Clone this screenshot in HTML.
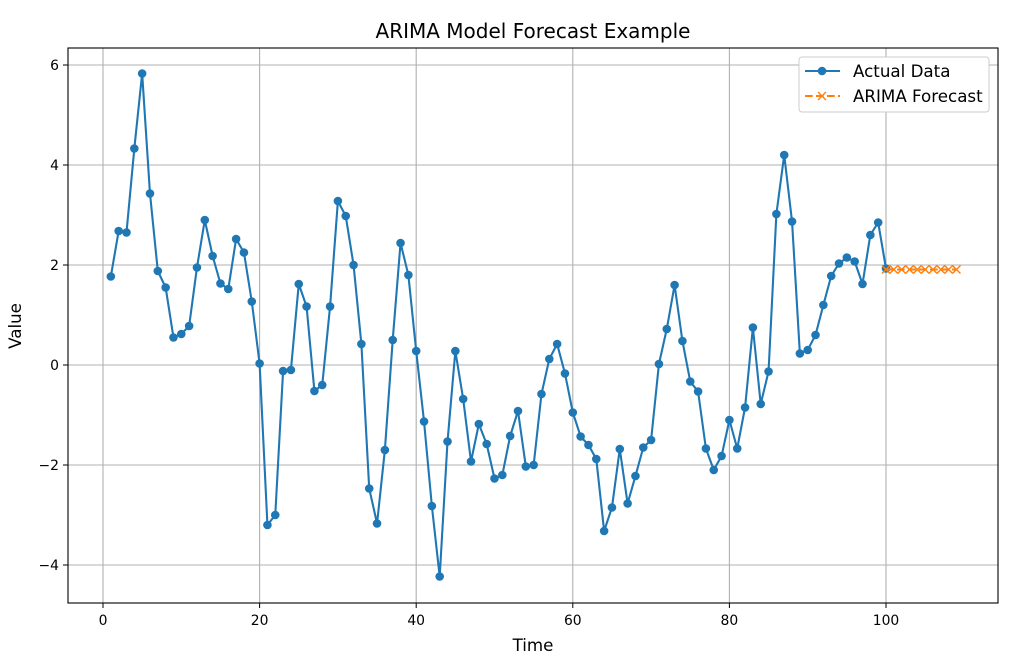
<!DOCTYPE html>
<html><head><meta charset="utf-8"><style>
body{margin:0;background:#fff;}
text{font-family:"DejaVu Sans","Liberation Sans",sans-serif;fill:#000;}
</style></head><body>
<svg id="s" width="1024" height="663" xmlns="http://www.w3.org/2000/svg">
<rect width="1024" height="663" fill="#fff"/>
<g id="grid" stroke="#b0b0b0" stroke-width="1.1"></g>
<g id="ticks"></g>
<polyline id="act" fill="none" stroke="#1f77b4" stroke-width="2.1"/>
<g id="dots" fill="#1f77b4"></g>
<polyline id="fc" fill="none" stroke="#ff7f0e" stroke-width="2.1" stroke-dasharray="7.7,3.3"/>
<g id="xs" stroke="#ff7f0e" stroke-width="1.4"></g>
<rect x="68" y="48" width="930" height="555" fill="none" stroke="#000" stroke-width="1.1"/>
<text x="533" y="38" font-size="20" text-anchor="middle">ARIMA Model Forecast Example</text>
<text x="533" y="651" font-size="16.7" text-anchor="middle">Time</text>
<text x="21" y="326" font-size="16.7" text-anchor="middle" transform="rotate(-90 21 326)">Value</text>
<rect x="799" y="57" width="190" height="55" rx="3" fill="#fff" stroke="#ccc" stroke-width="1"/>
<line x1="805" y1="71" x2="840" y2="71" stroke="#1f77b4" stroke-width="2.1"/>
<circle cx="822" cy="71" r="4.3" fill="#1f77b4"/>
<text x="853" y="77" font-size="16.7">Actual Data</text>
<line x1="805" y1="96" x2="840" y2="96" stroke="#ff7f0e" stroke-width="2.1" stroke-dasharray="7.7,3.3"/>
<path d="M818 92l8 8M826 92l-8 8" stroke="#ff7f0e" stroke-width="1.4"/>
<text x="853" y="102" font-size="16.7">ARIMA Forecast</text>
</svg>
<script>
var d=[1.77,2.68,2.65,4.33,5.83,3.43,1.88,1.55,0.55,0.62,0.78,1.95,2.9,2.18,1.63,1.52,2.52,2.25,1.27,0.03,-3.2,-3.0,-0.12,-0.1,1.62,1.17,-0.52,-0.4,1.17,3.28,2.98,2.0,0.42,-2.47,-3.17,-1.7,0.5,2.44,1.8,0.28,-1.13,-2.82,-4.23,-1.53,0.28,-0.68,-1.93,-1.18,-1.58,-2.27,-2.2,-1.42,-0.92,-2.03,-2.0,-0.58,0.12,0.42,-0.17,-0.95,-1.43,-1.6,-1.88,-3.32,-2.85,-1.68,-2.77,-2.22,-1.65,-1.5,0.02,0.72,1.6,0.48,-0.33,-0.53,-1.67,-2.1,-1.82,-1.1,-1.67,-0.85,0.75,-0.78,-0.13,3.02,4.2,2.87,0.23,0.3,0.6,1.2,1.78,2.03,2.15,2.07,1.62,2.6,2.85,1.93];
function X(t){return 103+t*7.83}function Y(v){return 365-v*50}
var NS="http://www.w3.org/2000/svg";
function el(p,n,a,txt){var e=document.createElementNS(NS,n);for(var k in a)e.setAttribute(k,a[k]);if(txt!=null)e.textContent=txt;document.getElementById(p).appendChild(e);}
for(var t=0;t<=100;t+=20){var x=X(t);el("grid","line",{x1:x,y1:48,x2:x,y2:603});el("ticks","line",{x1:x,y1:603,x2:x,y2:608,stroke:"#000","stroke-width":1});el("ticks","text",{x:x,y:625,"font-size":13.9,"text-anchor":"middle"},t);}
for(var v=-4;v<=6;v+=2){var y=Y(v);el("grid","line",{x1:68,y1:y,x2:998,y2:y});el("ticks","line",{x1:63,y1:y,x2:68,y2:y,stroke:"#000","stroke-width":1});el("ticks","text",{x:59,y:y+5,"font-size":13.9,"text-anchor":"end"},v<0?"\u2212"+(-v):v);}
var p=[];d.forEach(function(v,i){var x=X(i+1),y=Y(v);p.push(x+","+y);el("dots","circle",{cx:x,cy:y,r:4.3});});
document.getElementById("act").setAttribute("points",p.join(" "));
var q=[];for(var t=100;t<=109;t++){var x=X(t),y=Y(1.91);q.push(x+","+y);el("xs","path",{d:"M"+(x-4)+" "+(y-4)+"l8 8M"+(x+4)+" "+(y-4)+"l-8 8"});}
document.getElementById("fc").setAttribute("points",q.join(" "));
</script>
</body></html>
